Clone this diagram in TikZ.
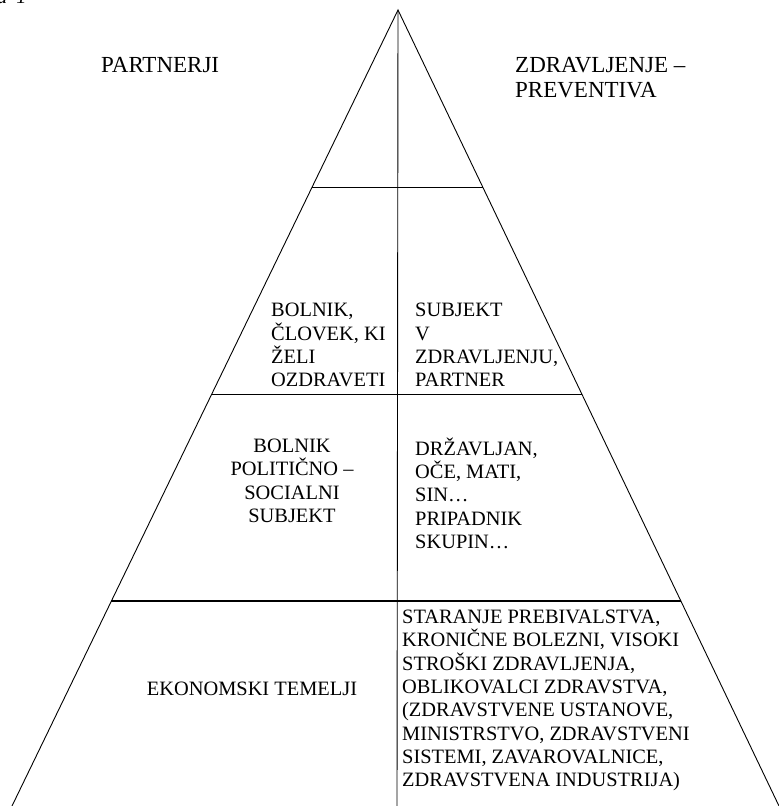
\documentclass[tikz,border=0pt]{standalone}
\usepackage{fontspec}
\setmainfont{Liberation Serif}
\usetikzlibrary{calc}
\begin{document}
\begin{tikzpicture}[x=1pt,y=-1pt,
  edge/.style={line width=0.9pt,black},
  body/.style={inner sep=0pt,font=\fontsize{20.4}{23.3}\selectfont},
  head/.style={inner sep=0pt,font=\fontsize{23}{25}\selectfont},
]
\useasboundingbox (0,0) rectangle (779,806);
\clip (0,0) rectangle (779,806);
\fill[white] (0,0) rectangle (779,806);
% partial caption at top left
\node[body,anchor=base west,font=\fontsize{20.4}{23.3}\selectfont\itshape] (cap) at (-3,3) {a\hspace{9pt}1};
% pyramid
\coordinate (apex) at (398,10);
\coordinate (bl) at (12,806);
\coordinate (br) at (779,806);
\coordinate (vb) at (397,806);
\draw[edge] (bl) -- (apex) -- (br);
\draw[edge] (apex) -- (vb);
\coordinate (l1) at ($(apex)!0.2224!(bl)$);
\coordinate (r1) at ($(apex)!0.2224!(br)$);
\coordinate (l2) at ($(apex)!0.4824!(bl)$);
\coordinate (r2) at ($(apex)!0.4824!(br)$);
\coordinate (l3) at ($(apex)!0.7425!(bl)$);
\coordinate (r3) at ($(apex)!0.7425!(br)$);
\draw[edge] (l1) -- (r1);
\draw[edge] (l2) -- (r2);
\draw[edge,line width=1.3pt] (l3) -- (r3);
% headings
\node[head,anchor=base west] (partner) at (101,72) {PARTNERJI};
\node[head,anchor=north west,align=left] (zdrav) at (515,72.5-22) {\rule{0pt}{22pt}ZDRAVLJENJE –\\PREVENTIVA};
% second tier
\node[body,anchor=north west,align=left] (bolnik) at (271,316.7-20) {\rule{0pt}{20pt}BOLNIK,\\ČLOVEK, KI\\ŽELI\\OZDRAVETI};
\node[body,anchor=north west,align=left] (subjekt) at (415,316.7-20) {\rule{0pt}{20pt}SUBJEKT\\V\\ZDRAVLJENJU,\\PARTNER};
% third tier
\node[body,anchor=north,align=center] (polit) at (292,452.4-20) {\rule{0pt}{20pt}BOLNIK\\POLITIČNO –\\SOCIALNI\\SUBJEKT};
\node[body,anchor=north west,align=left] (drzav) at (415,455-20) {\rule{0pt}{20pt}DRŽAVLJAN,\\OČE, MATI,\\SIN…\\PRIPADNIK\\SKUPIN…};
% bottom tier
\node[body,anchor=base] (ekon) at (252,695) {EKONOMSKI TEMELJI};
\node[body,anchor=north west,align=left] (star) at (402,623.4-20) {\rule{0pt}{20pt}STARANJE PREBIVALSTVA,\\KRONIČNE BOLEZNI, VISOKI\\STROŠKI ZDRAVLJENJA,\\OBLIKOVALCI ZDRAVSTVA,\\(ZDRAVSTVENE USTANOVE,\\MINISTRSTVO, ZDRAVSTVENI\\SISTEMI, ZAVAROVALNICE,\\ZDRAVSTVENA INDUSTRIJA)};
\end{tikzpicture}
\end{document}
